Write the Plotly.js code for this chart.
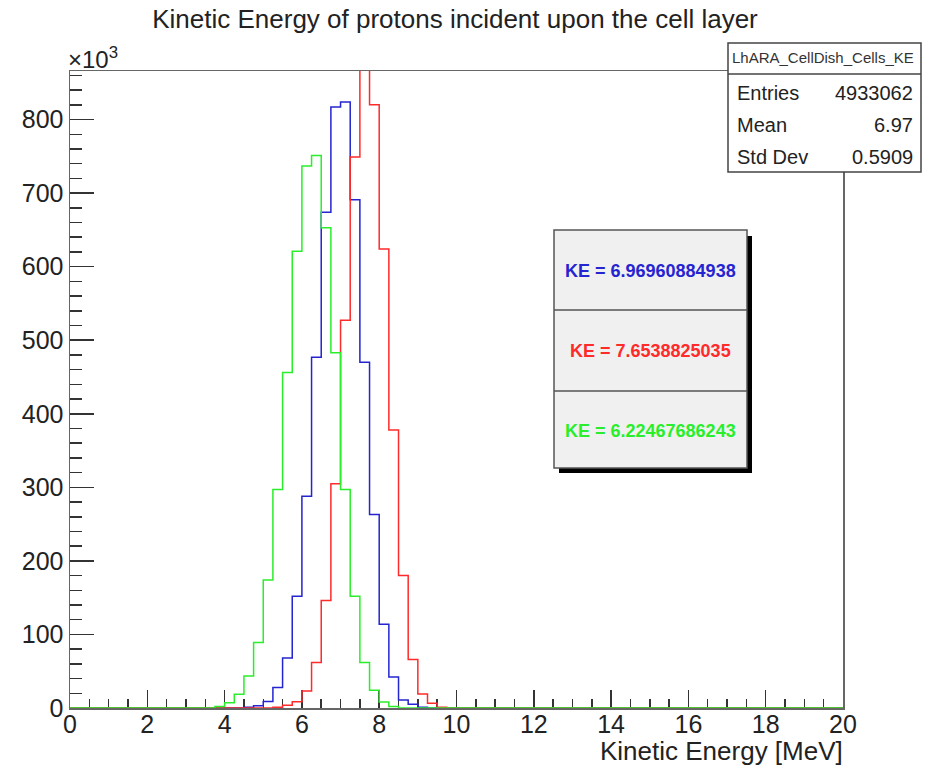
<!DOCTYPE html>
<html>
<head>
<meta charset="utf-8">
<script src="https://cdn.plot.ly/plotly-3.0.1.min.js"></script>
<style>html,body{margin:0;padding:0;background:#fff;}#chart{width:933px;height:766px;}</style>
</head>
<body>
<div id="chart"></div>
<script>
// Bin lower edges (MeV), bin width 0.25 MeV; counts in units of 10^3
const binLowEdges = [3.5, 3.75, 4.0, 4.25, 4.5, 4.75, 5.0, 5.25, 5.5, 5.75, 6.0, 6.25, 6.5, 6.75, 7.0, 7.25, 7.5, 7.75, 8.0, 8.25, 8.5, 8.75, 9.0, 9.25, 9.5, 9.75];
const blueCounts  = [0, 0, 0, 0, 1, 3, 9, 28, 68, 152, 288, 477, 674, 817, 824, 691, 470, 263, 114, 42, 11, 5, 1, 0, 0, 0];
const redCounts   = [0, 0, 0, 0, 0, 0, 0, 1, 3.6, 8.6, 23, 62, 146, 305, 527, 749, 880, 820, 624, 378, 180, 66, 19, 6.5, 1, 0];
const greenCounts = [0, 2, 7, 18.6, 43.5, 89, 174, 297, 456, 621, 737, 751, 653, 483, 297, 152, 62, 24, 8, 2, 0, 0, 0, 0, 0, 0];
const axisMin = 0, axisMax = 20;

const legendLabels = ["KE = 6.96960884938", "KE = 7.6538825035", "KE = 6.22467686243"];
const statsTitle = "LhARA_CellDish_Cells_KE";
const statsNames = ["Entries", "Mean", "Std Dev"];
const statsValues = ["4933062", "6.97", "0.5909"];

const BLUE = '#2424d0', RED = '#ff2a2a', GREEN = '#2aee2a';

function stepTrace(vals, color) {
  const x = [axisMin].concat(binLowEdges, [axisMax]);
  const y = [0].concat(vals, [0]);
  return {x: x, y: y, type: 'scatter', mode: 'lines', line: {shape: 'hv', color: color, width: 1.5}, hoverinfo: 'skip'};
}

const W = 933, H = 766;
const M = {l: 70, r: 90, t: 71, b: 58};
const PW = W - M.l - M.r, PH = H - M.t - M.b;
const px = X => (X - M.l) / PW;
const py = Y => (H - M.b - Y) / PH;
const FONT = 'Liberation Sans, Arial, Helvetica, sans-serif';

const shapes = [];
const annotations = [];
function rect(x0, y0, x1, y1, fill, lineColor, lw) {
  shapes.push({type: 'rect', xref: 'paper', yref: 'paper', x0: px(x0), x1: px(x1), y0: py(y1), y1: py(y0),
    fillcolor: fill, line: {color: lineColor, width: lw}});
}
function hline(x0, x1, y, color, lw) {
  shapes.push({type: 'line', xref: 'paper', yref: 'paper', x0: px(x0), x1: px(x1), y0: py(y), y1: py(y), line: {color: color, width: lw}});
}
function text(t, X, Y, size, color, anchor, bold) {
  annotations.push({text: bold ? '<b>' + t + '</b>' : t, xref: 'paper', yref: 'paper', x: px(X), y: py(Y),
    xanchor: anchor, yanchor: 'middle', showarrow: false, font: {family: FONT, size: size, color: color}});
}

// Stats box
rect(728, 43, 921, 172, '#ffffff', '#444', 1.5);
hline(728, 921, 74, '#444', 1.5);
text(statsTitle, 823, 58, 15, '#333', 'center');
const statsY = [93, 125, 157];
for (let i = 0; i < statsNames.length; i++) {
  text(statsNames[i], 735, statsY[i], 20, '#222', 'left');
  text(statsValues[i], 915, statsY[i], 20, '#222', 'right');
}

// Legend box with shadow
rect(559, 236, 752, 473, '#000000', '#000000', 0);
rect(554, 230, 747, 468, '#f0f0f0', '#555', 1.5);
hline(554, 747, 310, '#555', 1.5);
hline(554, 747, 391, '#555', 1.5);
const legendColors = [BLUE, RED, GREEN];
const legendY = [271, 351, 431];
for (let i = 0; i < legendLabels.length; i++) {
  text(legendLabels[i], 650, legendY[i], 18, legendColors[i], 'center', true);
}

// Exponent label and axis title
text('×10<sup>3</sup>', 66, 58, 24, '#222', 'left');
text('Kinetic Energy [MeV]', 845, 751, 26, '#222', 'right');

const layout = {
  width: W, height: H,
  margin: M,
  paper_bgcolor: '#fff', plot_bgcolor: '#fff',
  showlegend: false, hovermode: false,
  title: {text: 'Kinetic Energy of protons incident upon the cell layer', xref: 'container', yref: 'container',
    x: 455 / W, y: 1 - 19 / H, xanchor: 'center', yanchor: 'middle', font: {family: FONT, size: 26, color: '#222'}},
  xaxis: {range: [axisMin, axisMax], dtick: 2, tick0: 0, ticks: 'inside', ticklen: 18, tickwidth: 1.5, tickcolor: '#333',
    minor: {dtick: 0.5, ticks: 'inside', ticklen: 9, tickwidth: 1.5, tickcolor: '#333'},
    showgrid: false, zeroline: false, showline: true, linecolor: '#666', linewidth: 1.5, mirror: true,
    ticklabelstandoff: -7,
    layer: 'below traces', tickfont: {family: FONT, size: 25, color: '#222'}, fixedrange: true},
  yaxis: {range: [0, 866], dtick: 100, tick0: 0, ticks: 'inside', ticklen: 24, tickwidth: 1.5, tickcolor: '#333',
    minor: {dtick: 20, ticks: 'inside', ticklen: 12, tickwidth: 1.5, tickcolor: '#333'},
    showgrid: false, zeroline: false, showline: true, linecolor: '#666', linewidth: 1.5, mirror: true,
    layer: 'below traces', tickfont: {family: FONT, size: 25, color: '#222'}, fixedrange: true},
  shapes: shapes,
  annotations: annotations
};

Plotly.newPlot('chart', [stepTrace(blueCounts, BLUE), stepTrace(redCounts, RED), stepTrace(greenCounts, GREEN)], layout, {staticPlot: true, displayModeBar: false});
</script>
</body>
</html>
